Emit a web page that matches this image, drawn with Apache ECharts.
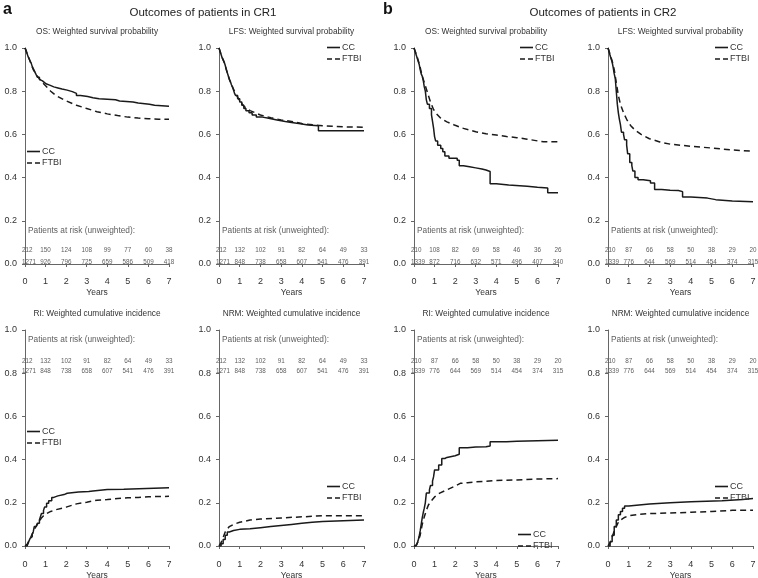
<!DOCTYPE html>
<html><head><meta charset="utf-8">
<script src="https://cdn.jsdelivr.net/npm/echarts/dist/echarts.min.js"></script>
<style>html,body{margin:0;padding:0;background:#fff}#c{width:758px;height:578px}</style>
</head><body><div id="c"></div>
<script>
// ---------- data ----------
const years = [0, 1, 2, 3, 4, 5, 6, 7];
const seriesNames = ['CC', 'FTBI'];

// CR1 OS
const cr1OsCC = [[0,1],[0.05,0.99],[0.1,0.975],[0.15,0.96],[0.2,0.95],[0.25,0.94],[0.3,0.93],[0.35,0.915],[0.4,0.905],[0.45,0.895],[0.5,0.885],[0.55,0.875],[0.6,0.865],[0.7,0.855],[0.75,0.848],[0.85,0.84],[0.95,0.833],[1.05,0.828],[1.2,0.82],[1.4,0.815],[1.6,0.81],[1.8,0.805],[2.05,0.798],[2.3,0.79],[2.5,0.78],[2.7,0.775],[3.05,0.77],[3.3,0.765],[3.6,0.76],[4.4,0.755],[4.6,0.75],[5.25,0.745],[5.5,0.74],[6.05,0.735],[6.3,0.73],[7,0.73]];
const cr1OsFTBI = [[0,1],[0.1,0.975],[0.2,0.95],[0.3,0.925],[0.4,0.9],[0.5,0.885],[0.6,0.87],[0.8,0.845],[1.0,0.825],[1.25,0.8],[1.5,0.78],[2,0.755],[2.5,0.735],[3,0.72],[3.5,0.705],[4,0.695],[4.5,0.687],[5,0.68],[5.5,0.676],[6,0.673],[6.5,0.67],[7,0.67]];
// CR1 LFS
const cr1LfsCC = [[0,1],[0.05,0.985],[0.1,0.97],[0.15,0.955],[0.2,0.945],[0.25,0.935],[0.3,0.92],[0.35,0.9],[0.4,0.885],[0.45,0.87],[0.5,0.855],[0.55,0.845],[0.6,0.83],[0.65,0.82],[0.7,0.805],[0.75,0.79],[0.8,0.78],[0.9,0.765],[1.0,0.75],[1.1,0.735],[1.2,0.72],[1.3,0.71],[1.45,0.7],[1.6,0.69],[1.8,0.68],[2.1,0.675],[2.4,0.667],[2.8,0.66],[3.2,0.655],[3.5,0.65],[3.85,0.643],[4.3,0.64],[4.8,0.617],[7,0.617]];
const cr1LfsFTBI = [[0,1],[0.1,0.97],[0.2,0.945],[0.3,0.92],[0.4,0.885],[0.5,0.855],[0.6,0.83],[0.8,0.79],[1.0,0.755],[1.2,0.73],[1.5,0.71],[2,0.69],[2.5,0.677],[3,0.667],[3.5,0.66],[4,0.65],[5,0.64],[6,0.635],[7,0.633]];
// CR2 OS
const cr2OsCC = [[0,1],[0.05,0.985],[0.1,0.97],[0.15,0.955],[0.2,0.94],[0.25,0.925],[0.3,0.9],[0.35,0.88],[0.4,0.87],[0.45,0.85],[0.5,0.82],[0.55,0.8],[0.6,0.76],[0.65,0.74],[0.75,0.72],[0.85,0.69],[0.9,0.66],[0.95,0.63],[1.0,0.59],[1.05,0.57],[1.15,0.55],[1.3,0.535],[1.4,0.52],[1.5,0.5],[1.7,0.49],[2.1,0.48],[2.2,0.455],[2.4,0.45],[2.7,0.445],[3.0,0.44],[3.3,0.435],[3.5,0.428],[3.7,0.372],[4.0,0.366],[4.6,0.36],[5.5,0.355],[6.0,0.352],[6.5,0.33],[7,0.33]];
const cr2OsFTBI = [[0,1],[0.1,0.975],[0.2,0.945],[0.3,0.91],[0.4,0.87],[0.5,0.84],[0.6,0.81],[0.7,0.78],[0.8,0.75],[0.95,0.715],[1.1,0.695],[1.3,0.675],[1.6,0.658],[2,0.642],[2.4,0.628],[3,0.612],[3.5,0.603],[4,0.597],[4.5,0.59],[5,0.585],[5.5,0.578],[6,0.57],[6.3,0.566],[7,0.566]];
// CR2 LFS
const cr2LfsCC = [[0,1],[0.05,0.985],[0.1,0.965],[0.15,0.95],[0.2,0.935],[0.25,0.91],[0.3,0.88],[0.35,0.86],[0.4,0.8],[0.45,0.74],[0.5,0.7],[0.55,0.67],[0.6,0.645],[0.65,0.61],[0.75,0.6],[0.8,0.575],[0.9,0.55],[0.95,0.51],[1.05,0.47],[1.15,0.455],[1.2,0.43],[1.3,0.4],[1.45,0.39],[1.7,0.385],[2.05,0.375],[2.25,0.345],[2.6,0.342],[3.0,0.34],[3.4,0.335],[3.6,0.31],[4.0,0.305],[4.8,0.298],[5.2,0.292],[6.0,0.288],[7,0.288]];
const cr2LfsFTBI = [[0,1],[0.1,0.97],[0.2,0.94],[0.3,0.9],[0.4,0.84],[0.5,0.78],[0.6,0.74],[0.75,0.7],[0.9,0.67],[1.1,0.64],[1.3,0.62],[1.6,0.6],[2,0.58],[2.5,0.565],[3,0.555],[3.5,0.55],[4,0.545],[5,0.537],[6,0.528],[7,0.522]];
// CR1 RI
const cr1RiCC = [[0,0],[0.1,0.005],[0.15,0.012],[0.2,0.025],[0.25,0.035],[0.3,0.043],[0.35,0.055],[0.4,0.065],[0.45,0.09],[0.55,0.092],[0.6,0.105],[0.7,0.12],[0.75,0.135],[0.8,0.15],[0.9,0.165],[0.95,0.18],[1.05,0.198],[1.15,0.21],[1.3,0.225],[1.4,0.232],[1.6,0.238],[1.9,0.244],[2.05,0.25],[2.6,0.252],[3.1,0.255],[3.3,0.262],[4.0,0.263],[4.8,0.27],[7,0.27]];
const cr1RiFTBI = [[0,0],[0.1,0.008],[0.2,0.025],[0.3,0.045],[0.4,0.065],[0.5,0.085],[0.6,0.1],[0.7,0.115],[0.8,0.13],[0.9,0.14],[1.0,0.148],[1.25,0.16],[1.5,0.168],[2,0.18],[2.5,0.195],[3,0.203],[3.5,0.212],[4,0.215],[4.5,0.22],[5,0.223],[5.5,0.225],[6,0.228],[7,0.23]];
// CR1 NRM
const cr1NrmCC = [[0,0],[0.1,0.01],[0.2,0.03],[0.3,0.05],[0.4,0.065],[0.5,0.072],[0.7,0.077],[1,0.08],[1.5,0.085],[2,0.09],[2.5,0.095],[3,0.1],[3.5,0.105],[4,0.11],[4.5,0.113],[5,0.12],[7,0.12]];
const cr1NrmFTBI = [[0,0],[0.1,0.015],[0.2,0.04],[0.3,0.065],[0.5,0.09],[0.7,0.1],[1,0.11],[1.5,0.12],[2,0.125],[3,0.13],[4,0.135],[5,0.14],[7,0.14]];
// CR2 RI
const cr2RiCC = [[0,0],[0.1,0.003],[0.15,0.01],[0.2,0.025],[0.25,0.045],[0.3,0.07],[0.35,0.1],[0.4,0.13],[0.45,0.155],[0.5,0.175],[0.55,0.2],[0.6,0.245],[0.75,0.26],[0.8,0.28],[0.9,0.3],[0.95,0.32],[1.0,0.352],[1.2,0.375],[1.35,0.405],[1.5,0.41],[1.6,0.418],[2.0,0.425],[2.2,0.455],[2.6,0.458],[3.0,0.46],[3.5,0.463],[3.7,0.483],[4.5,0.485],[5.0,0.49],[7,0.49]];
const cr2RiFTBI = [[0,0],[0.1,0.004],[0.2,0.02],[0.3,0.05],[0.4,0.1],[0.5,0.135],[0.6,0.165],[0.7,0.19],[0.85,0.21],[1,0.227],[1.25,0.245],[1.6,0.26],[2,0.278],[2.25,0.29],[2.6,0.293],[3,0.297],[3.5,0.3],[4,0.303],[5,0.306],[6,0.31],[7,0.312]];
// CR2 NRM
const cr2NrmCC = [[0,0],[0.1,0.02],[0.2,0.05],[0.3,0.09],[0.4,0.12],[0.5,0.145],[0.6,0.16],[0.7,0.175],[0.8,0.185],[1,0.19],[1.5,0.195],[2,0.2],[3,0.205],[4,0.21],[5.5,0.215],[6.5,0.22],[7,0.22]];
const cr2NrmFTBI = [[0,0],[0.1,0.015],[0.2,0.04],[0.3,0.07],[0.4,0.09],[0.5,0.11],[0.6,0.12],[0.8,0.132],[1,0.14],[1.5,0.147],[2,0.15],[3,0.153],[4,0.156],[5,0.16],[6,0.165],[7,0.165]];

// patients at risk (unweighted)
const riskCR1OsCC = [212,150,124,108,99,77,60,38];
const riskCR1OsFTBI = [1271,926,796,725,659,586,509,418];
const riskCR1CC = [212,132,102,91,82,64,49,33];
const riskCR1FTBI = [1271,848,738,658,607,541,476,391];
const riskCR2OsCC = [210,108,82,69,58,46,36,26];
const riskCR2OsFTBI = [1339,872,716,632,571,496,407,340];
const riskCR2CC = [210,87,66,58,50,38,29,20];
const riskCR2FTBI = [1339,776,644,569,514,454,374,315];

const panelTitles = ['OS: Weighted survival probability','LFS: Weighted survival probability','OS: Weighted survival probability','LFS: Weighted survival probability',
  'RI: Weighted cumulative incidence','NRM: Weighted cumulative incidence','RI: Weighted cumulative incidence','NRM: Weighted cumulative incidence'];
const riskHeader = 'Patients at risk (unweighted):';

// ---------- layout ----------
const panels = [
  {cc: cr1OsCC, ftbi: cr1OsFTBI, rc: riskCR1OsCC, rf: riskCR1OsFTBI, left: 25, top: 48, w: 144, xo: 9, riskY: [0.153, 0.065, 0.01], legend: [27, 147]},
  {cc: cr1LfsCC, ftbi: cr1LfsFTBI, rc: riskCR1CC, rf: riskCR1FTBI, left: 219, top: 48, w: 145, xo: 9, riskY: [0.153, 0.065, 0.01], legend: [327, 43]},
  {cc: cr2OsCC, ftbi: cr2OsFTBI, rc: riskCR2OsCC, rf: riskCR2OsFTBI, left: 414, top: 48, w: 144, xo: 9, riskY: [0.153, 0.065, 0.01], legend: [520, 43]},
  {cc: cr2LfsCC, ftbi: cr2LfsFTBI, rc: riskCR2CC, rf: riskCR2FTBI, left: 608, top: 48, w: 145, xo: 9, riskY: [0.153, 0.065, 0.01], legend: [715, 43]},
  {cc: cr1RiCC, ftbi: cr1RiFTBI, rc: riskCR1CC, rf: riskCR1FTBI, left: 25, top: 330, w: 144, xo: 10, riskY: [0.954, 0.856, 0.81], legend: [27, 427]},
  {cc: cr1NrmCC, ftbi: cr1NrmFTBI, rc: riskCR1CC, rf: riskCR1FTBI, left: 219, top: 330, w: 145, xo: 10, riskY: [0.954, 0.856, 0.81], legend: [327, 482]},
  {cc: cr2RiCC, ftbi: cr2RiFTBI, rc: riskCR2CC, rf: riskCR2FTBI, left: 414, top: 330, w: 144, xo: 10, riskY: [0.954, 0.856, 0.81], legend: [518, 530]},
  {cc: cr2NrmCC, ftbi: cr2NrmFTBI, rc: riskCR2CC, rf: riskCR2FTBI, left: 608, top: 330, w: 145, xo: 10, riskY: [0.954, 0.856, 0.81], legend: [715, 482]}
];
const H = 216;
const FONT = '"Liberation Sans", Arial, Helvetica, sans-serif';
const INK = '#1a1a1a';
const TXT = '#333';
const AX = '#666';
const ICON_SOLID = 'path://M0,0h130v16h-130z';
const ICON_DASH = 'path://M0,0h50v16h-50zM80,0h50v16h-50z';

const grid = [], xAxis = [], yAxis = [], series = [], legend = [], graphic = [];

panels.forEach((p, i) => {
  grid.push({left: p.left, top: p.top, width: p.w, height: H, containLabel: false, outerBoundsMode: 'none'});
  xAxis.push({
    type: 'value', gridIndex: i, min: 0, max: 7, interval: 1, offset: p.xo,
    name: 'Years', nameLocation: 'middle', nameGap: 15,
    nameTextStyle: {fontSize: 8.5, color: TXT, fontFamily: FONT},
    axisLine: {show: true, lineStyle: {color: AX, width: 1}},
    axisTick: {show: true, length: 3, lineStyle: {color: AX}},
    axisLabel: {fontSize: 9, color: TXT, margin: 4, fontFamily: FONT},
    splitLine: {show: false}
  });
  yAxis.push({
    type: 'value', gridIndex: i, min: 0, max: 1, interval: 0.2, offset: 3,
    axisLine: {show: true, lineStyle: {color: AX, width: 1}},
    axisTick: {show: true, length: 3, lineStyle: {color: AX}},
    axisLabel: {fontSize: 9, color: TXT, margin: 5, fontFamily: FONT, formatter: v => v.toFixed(1)},
    splitLine: {show: false}
  });
  series.push({
    name: seriesNames[0], type: 'line', xAxisIndex: i, yAxisIndex: i, step: 'end',
    data: p.cc, showSymbol: false, symbol: 'none', silent: true, animation: false,
    lineStyle: {color: INK, width: 1.5, type: 'solid'}, itemStyle: {color: INK}
  });
  series.push({
    name: seriesNames[1], type: 'line', xAxisIndex: i, yAxisIndex: i,
    data: p.ftbi, showSymbol: false, symbol: 'none', silent: true, animation: false,
    lineStyle: {color: INK, width: 1.5, type: [6, 4]}, itemStyle: {color: INK}
  });
  // at-risk text placed through the axes
  const riskData = [];
  riskData.push({value: [0, p.riskY[0]], label: {formatter: riskHeader, fontSize: 8.3, align: 'left', offset: [3, 0]}});
  years.forEach((t, k) => {
    [p.rc[k], p.rf[k]].forEach((n, r) => {
      riskData.push({value: [t, p.riskY[r + 1]], label: {formatter: String(n), fontSize: 6.3,
        align: k === 0 ? 'left' : 'center', offset: k === 0 ? [-3, 0] : [0, 0]}});
    });
  });
  series.push({
    name: 'risk' + i, type: 'scatter', xAxisIndex: i, yAxisIndex: i, data: riskData,
    symbolSize: 1, itemStyle: {color: 'rgba(0,0,0,0)'}, silent: true, animation: false,
    label: {show: true, position: 'inside', color: TXT, fontFamily: FONT, verticalAlign: 'middle'}
  });
  legend.push({
    data: [{name: seriesNames[0], icon: ICON_SOLID}, {name: seriesNames[1], icon: ICON_DASH}],
    orient: 'vertical', left: p.legend[0], top: p.legend[1], padding: 0,
    itemWidth: 13, itemHeight: 2, itemGap: 2.5, selectedMode: false,
    itemStyle: {color: INK, borderWidth: 0},
    textStyle: {fontSize: 9, color: TXT, fontFamily: FONT, padding: [0, 0, 0, -3]}
  });
  graphic.push({type: 'text', x: p.left + p.w / 2, y: p.top - 16,
    style: {text: panelTitles[i], font: '8.3px ' + FONT, fill: TXT, align: 'center', verticalAlign: 'middle', textAlign: 'center', textVerticalAlign: 'middle'}});
});

graphic.push({type: 'text', x: 3, y: 10, style: {text: 'a', font: 'bold 16px ' + FONT, fill: '#111', align: 'left', verticalAlign: 'middle', textAlign: 'left', textVerticalAlign: 'middle'}});
graphic.push({type: 'text', x: 383, y: 10, style: {text: 'b', font: 'bold 16px ' + FONT, fill: '#111', align: 'left', verticalAlign: 'middle', textAlign: 'left', textVerticalAlign: 'middle'}});
graphic.push({type: 'text', x: 203, y: 13, style: {text: 'Outcomes of patients in CR1', font: '11.5px ' + FONT, fill: '#222', align: 'center', verticalAlign: 'middle', textAlign: 'center', textVerticalAlign: 'middle'}});
graphic.push({type: 'text', x: 603, y: 13, style: {text: 'Outcomes of patients in CR2', font: '11.5px ' + FONT, fill: '#222', align: 'center', verticalAlign: 'middle', textAlign: 'center', textVerticalAlign: 'middle'}});

const chart = echarts.init(document.getElementById('c'), null, {renderer: 'canvas'});
chart.setOption({
  animation: false,
  backgroundColor: '#fff',
  textStyle: {fontFamily: FONT},
  grid, xAxis, yAxis, series, legend, graphic
});
</script>
</body></html>
